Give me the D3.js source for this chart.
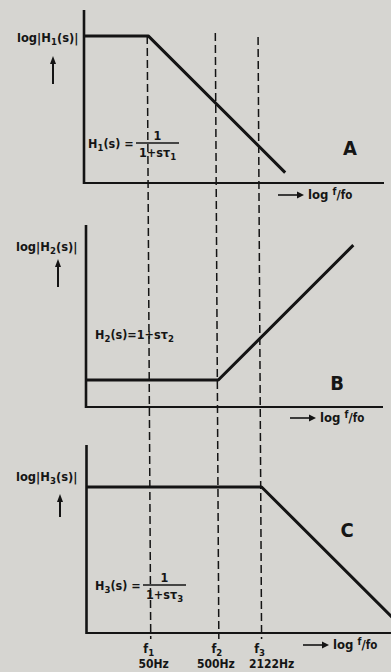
<!DOCTYPE html>
<html>
<head>
<meta charset="utf-8">
<script src="https://cdn.jsdelivr.net/npm/d3@7"></script>
<style>
  html, body { margin: 0; padding: 0; background: #d6d5d1; }
  svg { display: block; }
  text { font-family: "Liberation Sans Narrow", "DejaVu Sans Condensed", "Arial Narrow", sans-serif; font-weight: bold; fill: #151515; }
</style>
</head>
<body>
<svg id="chart" width="391" height="672"></svg>
<script>
// Corner frequencies of the three first-order sections
const cornerFreqs = [50, 500, 2122];
const cornerNames = ["1", "2", "3"];
const cornerLabels = ["50Hz", "500Hz", "2122Hz"];

// Asymptotic magnitude curves: [frequency (Hz), |H|]
const curveA = [[5.7, 1], [50, 1], [5130, 0.0098]];
const curveB = [[5.7, 1], [500, 1], [48000, 96]];
const curveC = [[5.7, 1], [2122, 1], [190000, 0.0112]];

const panelLetters = ["A", "B", "C"];

const svg = d3.select("#chart");
const ink = "#141414";

const freqDomain = [5.7, 150000];
const pxPerDecade = 68.1;

const panels = [
  { curve: curveA, x0: 84, magDomain: [0.0069, 2.4], yRange: [183, 10], axisEnd: 384,
    sub: "1", form: "frac", letter: [350, 155], xlab: [278, 199], ylab: [17, 42], arrow: [53, 56, 84], formula: [88, 148] },
  { curve: curveB, x0: 86, magDomain: [0.40, 190], yRange: [407, 225], axisEnd: 383,
    sub: "2", form: "line", letter: [337, 390], xlab: [290, 422], ylab: [16, 251], arrow: [58, 259, 287], formula: [95, 339] },
  { curve: curveC, x0: 86.5, magDomain: [0.0071, 4.15], yRange: [633, 445], axisEnd: 392,
    sub: "3", form: "frac", letter: [347, 537], xlab: [303, 649], ylab: [16, 481], arrow: [60, 494, 517], formula: [95, 590] }
];

panels.forEach(p => {
  const span = Math.log10(freqDomain[1] / freqDomain[0]) * pxPerDecade;
  p.x = d3.scaleLog().domain(freqDomain).range([p.x0, p.x0 + span]);
  p.y = d3.scaleLog().domain(p.magDomain).range(p.yRange);
});

// Dashed guides at the corner frequencies, running through all three panels
const firstPanel = panels[0], lastPanel = panels[2];
const guideTop = [36, 33, 37];
cornerFreqs.forEach((f, i) => {
  svg.append("line")
    .attr("x1", firstPanel.x(f) - 1).attr("y1", guideTop[i])
    .attr("x2", lastPanel.x(f)).attr("y2", 639)
    .attr("stroke", ink).attr("stroke-width", 1.5)
    .attr("stroke-dasharray", "8,4");
});

const line = d3.line().x(d => d[0]).y(d => d[1]);

panels.forEach((p, k) => {
  const g = svg.append("g");
  const [yb, yt] = p.yRange;
  // axes
  g.append("line").attr("x1", p.x0).attr("x2", p.x0).attr("y1", yt).attr("y2", yb + 1)
    .attr("stroke", ink).attr("stroke-width", 2.6);
  g.append("line").attr("x1", p.x0).attr("x2", p.axisEnd).attr("y1", yb).attr("y2", yb)
    .attr("stroke", ink).attr("stroke-width", 2.2);

  // magnitude curve
  g.append("path")
    .attr("d", line(p.curve.map(d => [p.x(d[0]), p.y(d[1])])))
    .attr("fill", "none").attr("stroke", ink).attr("stroke-width", 3)
    .attr("stroke-linejoin", "round");

  // panel letter
  g.append("text").attr("x", p.letter[0]).attr("y", p.letter[1])
    .attr("text-anchor", "middle").attr("font-size", 20).text(panelLetters[k]);

  // x-axis caption with arrow
  const [ax, ay] = p.xlab;
  g.append("line").attr("x1", ax).attr("x2", ax + 20).attr("y1", ay - 4).attr("y2", ay - 4)
    .attr("stroke", ink).attr("stroke-width", 1.6);
  g.append("path").attr("d", `M${ax + 26},${ay - 4} L${ax + 19},${ay - 7.5} L${ax + 19},${ay - 0.5} Z`).attr("fill", ink);
  const xl = g.append("text").attr("x", ax + 30).attr("y", ay).attr("font-size", 13);
  xl.append("tspan").text("log ");
  xl.append("tspan").attr("font-size", 10).attr("dy", -4).text("f");
  xl.append("tspan").attr("font-size", 13).attr("dy", 4).text("/");
  xl.append("tspan").attr("font-size", 11.5).text("fo");

  // y-axis caption with arrow
  const yl = g.append("text").attr("x", p.ylab[0]).attr("y", p.ylab[1]).attr("font-size", 12.8);
  yl.append("tspan").text("log|H");
  yl.append("tspan").attr("font-size", 9.5).attr("dy", 3).text(p.sub);
  yl.append("tspan").attr("dy", -3).text("(s)|");
  const [arx, ar0, ar1] = p.arrow;
  g.append("line").attr("x1", arx).attr("x2", arx).attr("y1", ar0 + 5).attr("y2", ar1)
    .attr("stroke", ink).attr("stroke-width", 2);
  g.append("path").attr("d", `M${arx},${ar0} L${arx - 3},${ar0 + 8} L${arx + 3},${ar0 + 8} Z`).attr("fill", ink);

  // transfer function
  const [fx, fy] = p.formula;
  const ft = g.append("text").attr("x", fx).attr("y", fy).attr("font-size", 12.5);
  ft.append("tspan").text("H");
  ft.append("tspan").attr("font-size", 9.5).attr("dy", 3).text(p.sub);
  ft.append("tspan").attr("dy", -3).text("(s)" + (p.form === "line" ? "=1+sτ" : " ="));
  if (p.form === "line") {
    ft.append("tspan").attr("font-size", 9.5).attr("dy", 3).text(p.sub);
  } else {
    const bx = fx + 48, bw = 43;
    g.append("line").attr("x1", bx).attr("x2", bx + bw).attr("y1", fy - 5).attr("y2", fy - 5)
      .attr("stroke", ink).attr("stroke-width", 1.3);
    g.append("text").attr("x", bx + bw / 2).attr("y", fy - 8).attr("font-size", 12.5)
      .attr("text-anchor", "middle").text("1");
    const dt = g.append("text").attr("x", bx + 3).attr("y", fy + 9).attr("font-size", 12.5);
    dt.append("tspan").text("1+sτ");
    dt.append("tspan").attr("font-size", 9.5).attr("dy", 3).text(p.sub);
  }
});

// Corner frequency labels beneath the lowest panel
cornerFreqs.forEach((f, i) => {
  const cx = lastPanel.x(f);
  const t = svg.append("text").attr("x", cx - 2).attr("y", 653).attr("font-size", 12.5).attr("text-anchor", "middle");
  t.append("tspan").text("f");
  t.append("tspan").attr("font-size", 9.5).attr("dy", 3).text(cornerNames[i]);
  svg.append("text").attr("x", cx + [3, -3, 10][i]).attr("y", 668).attr("font-size", 12)
    .attr("text-anchor", "middle").text(cornerLabels[i]);
});
</script>
</body>
</html>
